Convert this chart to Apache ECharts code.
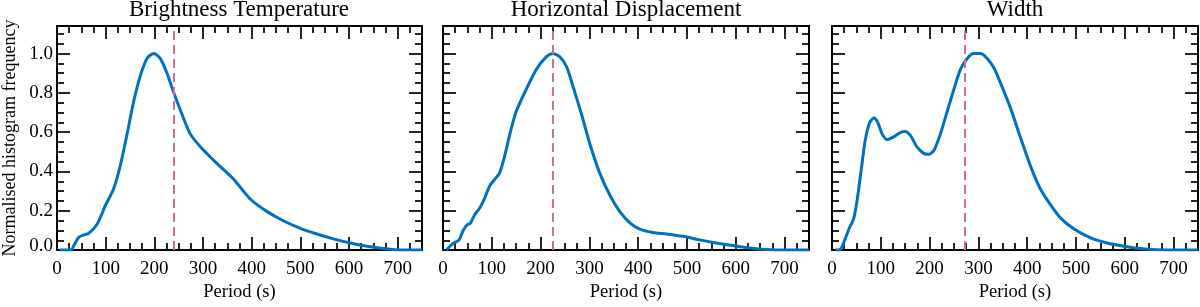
<!DOCTYPE html>
<html>
<head>
<meta charset="utf-8">
<script src="https://cdn.jsdelivr.net/npm/echarts@6/dist/echarts.min.js"></script>
<style>html,body{margin:0;padding:0;background:#fff}#c{width:1200px;height:307px}</style>
</head>
<body>
<div id="c"></div>
<script>
var titles = ['Brightness Temperature', 'Horizontal Displacement', 'Width'];
var xTicks = [0, 100, 200, 300, 400, 500, 600, 700];
var yTicks = [0.0, 0.2, 0.4, 0.6, 0.8, 1.0];

var btPeriod = [5, 28, 36, 45, 55, 65, 82, 100, 116, 130, 144, 157, 171, 185, 199, 212, 226, 240, 257, 274, 295, 329, 363, 397, 431, 466, 500, 534, 568, 603, 637, 671, 705, 750];
var btFreq   = [0, 0, 0.03, 0.066, 0.077, 0.085, 0.13, 0.23, 0.31, 0.43, 0.59, 0.75, 0.885, 0.975, 1.0, 0.975, 0.90, 0.80, 0.69, 0.59, 0.525, 0.44, 0.36, 0.26, 0.197, 0.148, 0.111, 0.082, 0.057, 0.036, 0.02, 0.008, 0, 0];

var hdPeriod = [7, 20, 33, 41, 50, 56, 65, 75, 85, 96, 106, 116, 126, 137, 150, 171, 191, 212, 225, 239, 253, 266, 284, 301, 321, 342, 362, 383, 403, 430, 458, 492, 526, 560, 594, 628, 663, 697, 750];
var hdFreq   = [0, 0.033, 0.052, 0.098, 0.13, 0.136, 0.18, 0.213, 0.262, 0.328, 0.36, 0.393, 0.475, 0.59, 0.705, 0.82, 0.918, 0.984, 1.0, 0.984, 0.934, 0.836, 0.69, 0.54, 0.393, 0.279, 0.197, 0.139, 0.107, 0.09, 0.082, 0.07, 0.052, 0.036, 0.023, 0.011, 0.003, 0, 0];

var wPeriod = [7, 17, 27, 36, 44, 51, 60, 68, 77, 86, 94, 103, 113, 127, 140, 150, 161, 174, 188, 198, 209, 222, 236, 250, 263, 277, 291, 304, 318, 332, 345, 366, 386, 407, 427, 448, 468, 496, 530, 564, 598, 632, 666, 700, 750];
var wFreq   = [0, 0.003, 0.057, 0.115, 0.156, 0.246, 0.41, 0.557, 0.648, 0.672, 0.648, 0.59, 0.562, 0.577, 0.598, 0.603, 0.582, 0.525, 0.492, 0.487, 0.508, 0.59, 0.705, 0.82, 0.918, 0.975, 1.0, 1.0, 0.975, 0.926, 0.852, 0.721, 0.574, 0.426, 0.311, 0.23, 0.164, 0.107, 0.062, 0.036, 0.02, 0.008, 0.002, 0, 0];

var medians = [240, 225, 272];

var periods = [btPeriod, hdPeriod, wPeriod];
var freqs = [btFreq, hdFreq, wFreq];

var FONT = 'Liberation Serif';
var lefts = [56, 443, 832];
var W = 366, TOP = 26, H = 234;

var grids = [], xAxes = [], yAxes = [], series = [], titleArr = [];
function tickCommon() {
  return {
    axisTick: {show: true, inside: true, length: 13, lineStyle: {color: '#000', width: 1.7}},
    minorTick: {show: true, splitNumber: 4, length: 7, lineStyle: {color: '#000', width: 1.7}},
    splitLine: {show: false}, minorSplitLine: {show: false},
    axisLine: {show: true, onZero: false, lineStyle: {color: '#000', width: 2}}
  };
}
function yFmt(v) {
  var ok = yTicks.some(function (t) { return Math.abs(t - v) < 1e-6; });
  if (!ok) return '';
  return v === 0 ? '{z|0.0}' : v.toFixed(1);
}
for (var i = 0; i < 3; i++) {
  grids.push({left: lefts[i], top: TOP, width: W, height: H, containLabel: false});
  titleArr.push({text: titles[i], left: lefts[i] + W / 2, top: -2, textAlign: 'center', padding: 0,
    textStyle: {fontFamily: FONT, fontSize: 23, fontWeight: 'normal', color: '#000'}});
  var xb = Object.assign({type: 'value', gridIndex: i, min: 0, max: 750, interval: 100, position: 'bottom',
    name: 'Period (s)', nameLocation: 'middle', nameGap: 30,
    nameTextStyle: {fontFamily: FONT, fontSize: 18.5, color: '#000'},
    axisLabel: {show: true, margin: 9, fontFamily: FONT, fontSize: 19, color: '#000',
      customValues: xTicks, formatter: function (v) { return String(v); }}
  }, tickCommon());
  var xt = Object.assign({type: 'value', gridIndex: i, min: 0, max: 750, interval: 100, position: 'top',
    axisLabel: {show: false}}, tickCommon());
  xAxes.push(xb, xt);
  var yl = Object.assign({type: 'value', gridIndex: i, min: 0, max: 1.14, interval: 0.2, position: 'left',
    axisLabel: {show: i === 0, margin: 4, fontFamily: FONT, fontSize: 19, color: '#000',
      showMaxLabel: false, formatter: yFmt,
      rich: {z: {fontFamily: FONT, fontSize: 19, color: '#000', padding: [0, 0, 9, 0]}}}
  }, tickCommon());
  if (i === 0) {
    yl.name = 'Normalised histogram frequency';
    yl.nameLocation = 'middle';
    yl.nameGap = 38;
    yl.nameTextStyle = {fontFamily: FONT, fontSize: 18, color: '#000'};
  }
  var yr = Object.assign({type: 'value', gridIndex: i, min: 0, max: 1.14, interval: 0.2, position: 'right',
    axisLabel: {show: false}}, tickCommon());
  yAxes.push(yl, yr);

  var data = periods[i].map(function (p, k) { return [p, freqs[i][k]]; });
  series.push({
    type: 'line', xAxisIndex: 2 * i, yAxisIndex: 2 * i, data: data, smooth: 0.25,
    symbol: 'none', clip: true,
    lineStyle: {color: '#0072BD', width: 3},
    markLine: {silent: true, symbol: 'none', label: {show: false},
      lineStyle: {color: '#D0708F', width: 2, type: [9, 5]},
      data: [{xAxis: medians[i]}]}
  });
}

var chart = echarts.init(document.getElementById('c'), null, {renderer: 'canvas'});
chart.setOption({
  animation: false,
  backgroundColor: '#fff',
  title: titleArr,
  grid: grids,
  xAxis: xAxes,
  yAxis: yAxes,
  series: series
});
</script>
</body>
</html>
